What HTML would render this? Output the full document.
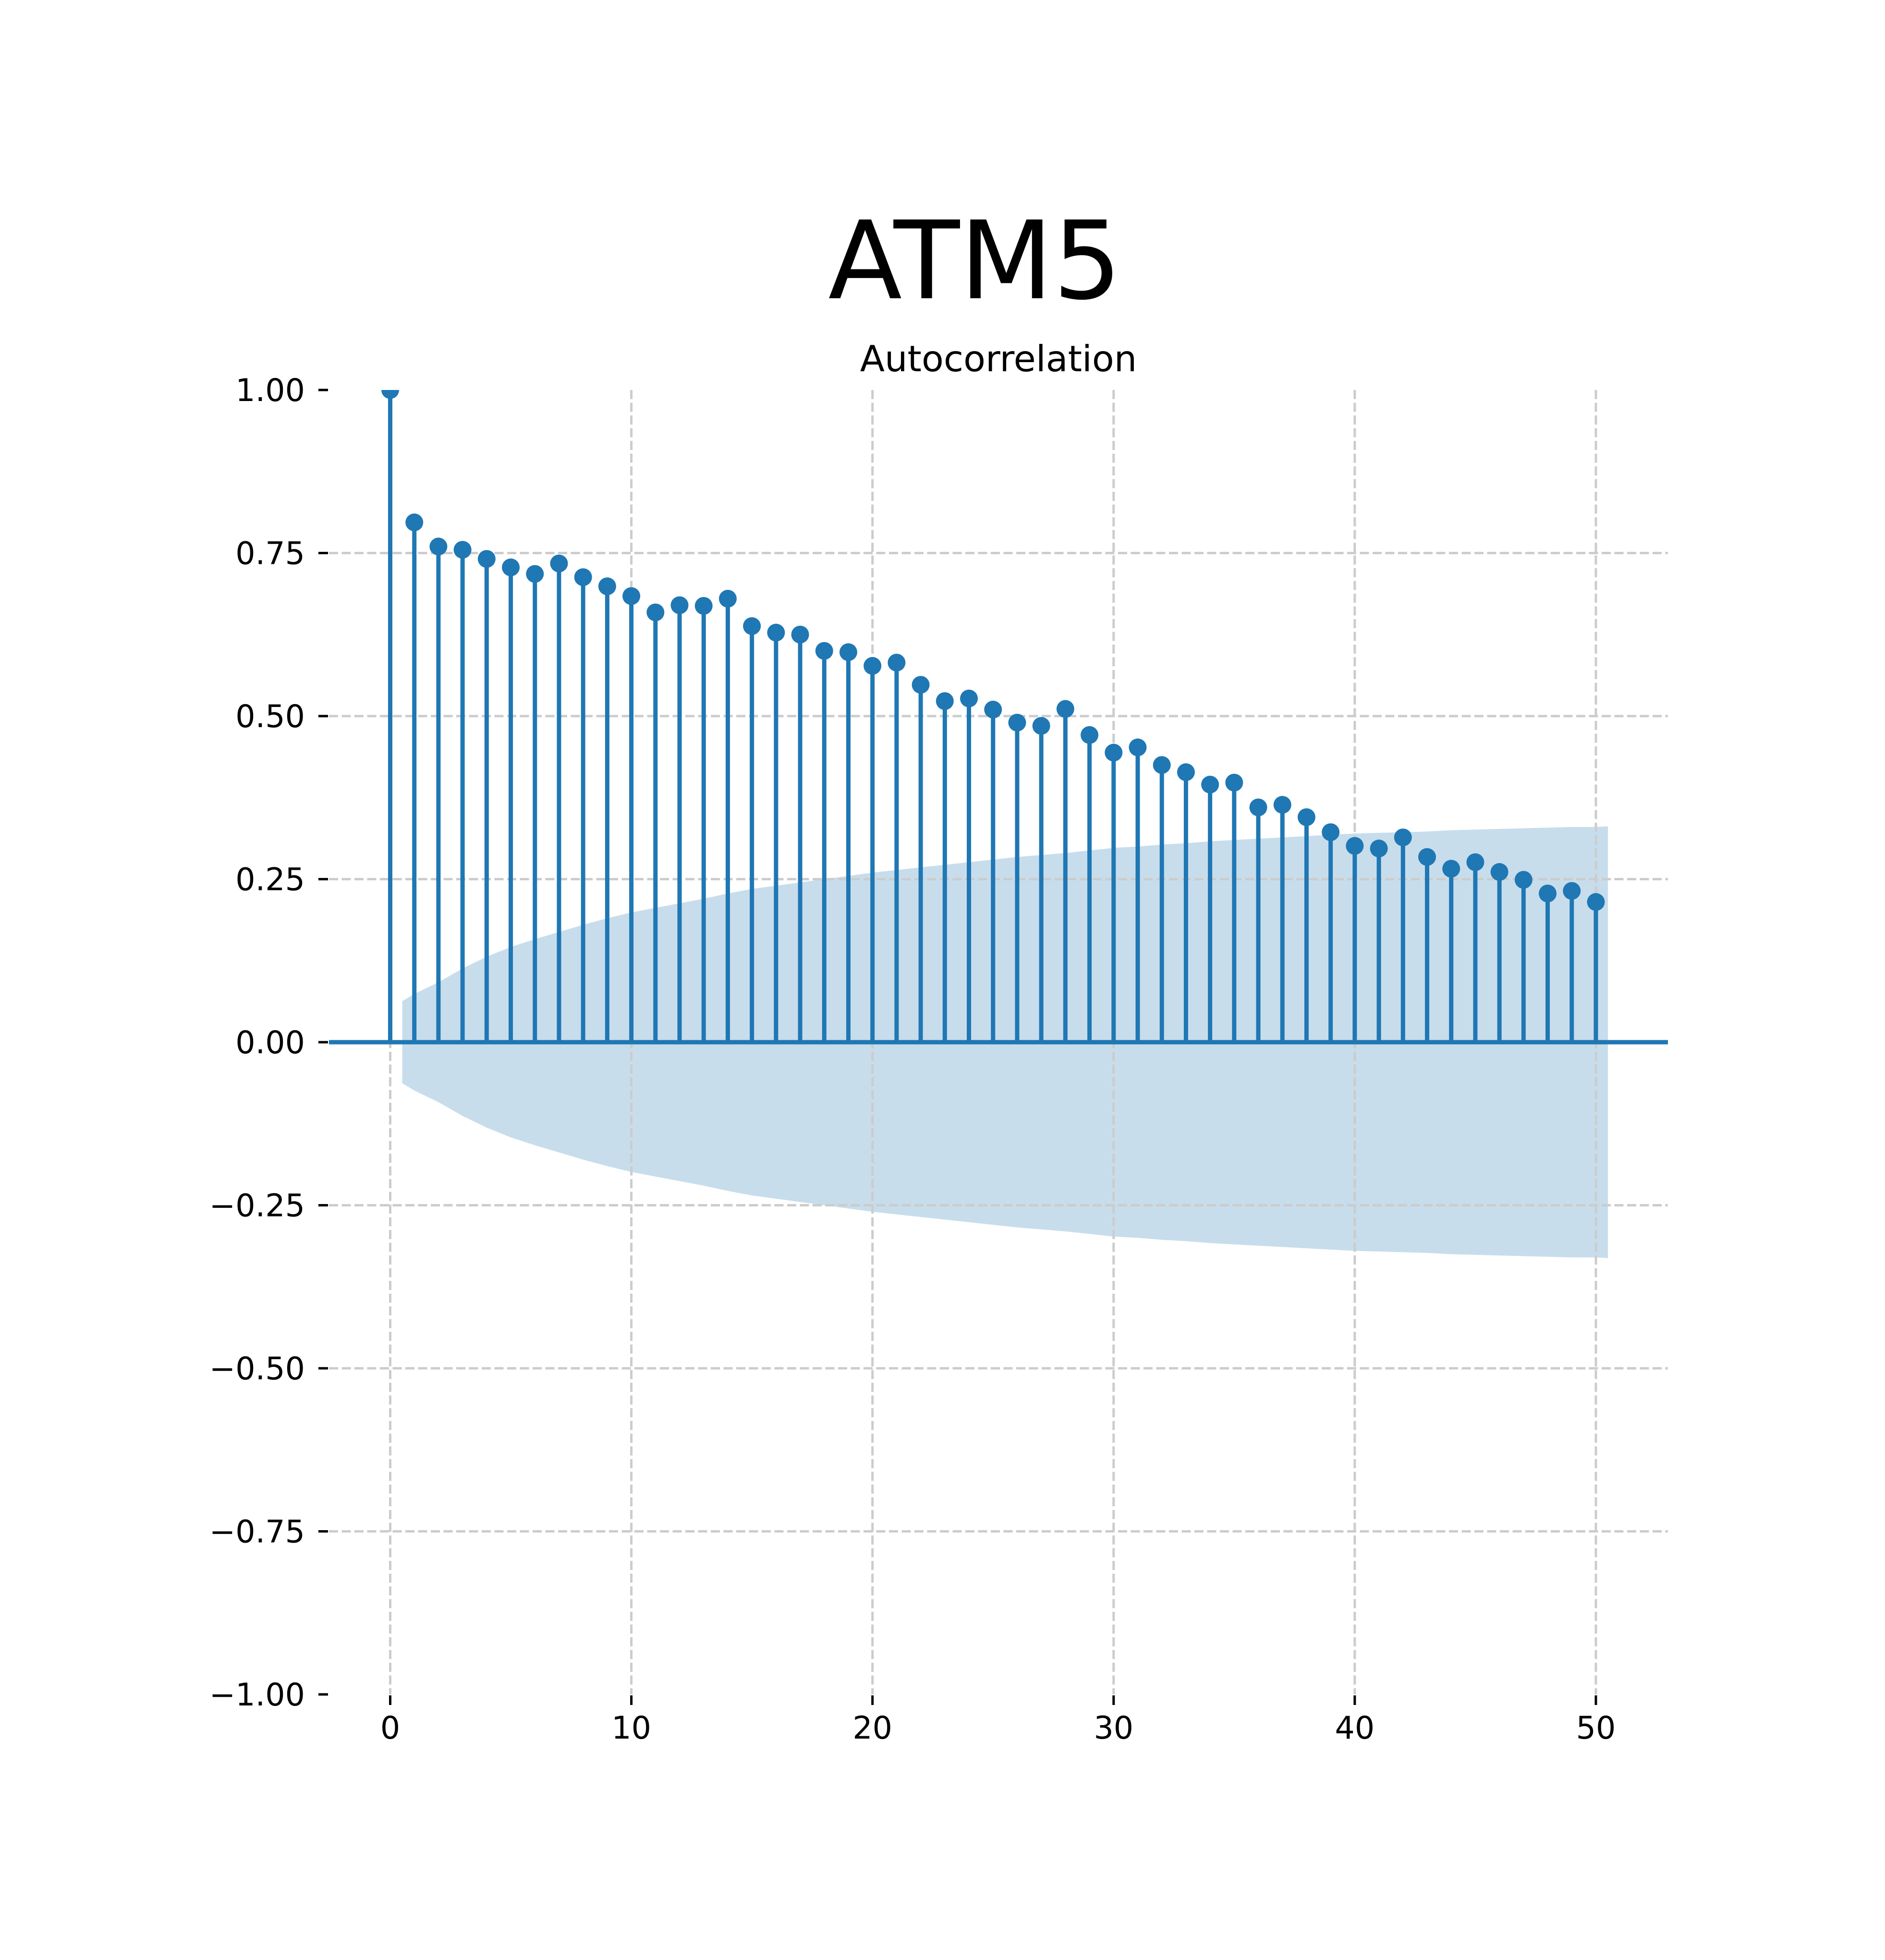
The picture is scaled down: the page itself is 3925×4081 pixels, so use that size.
<!DOCTYPE html>
<html><head><meta charset="utf-8">
<style>
html,body{margin:0;padding:0;background:#fff;}
svg{display:block;}
text{font-family:"DejaVu Sans","Liberation Sans",sans-serif;fill:#000;}
</style></head>
<body>
<svg id="chart" width="3925" height="4081" viewBox="0 0 3925 4081" xmlns="http://www.w3.org/2000/svg">
<rect width="3925" height="4081" fill="#fff"/>
<text x="2030" y="621" font-size="225" text-anchor="middle">ATM5</text>
<text x="2079" y="773" font-size="75" text-anchor="middle">Autocorrelation</text>
<defs><clipPath id="clip"><rect x="685" y="812" width="2788" height="2716"/></clipPath></defs>
<g id="band"></g>
<g id="grid"></g>
<g id="ticks"></g>
<g id="stems" clip-path="url(#clip)"></g>
</svg>
<script>
const lags = [0,1,2,3,4,5,6,7,8,9,10,11,12,13,14,15,16,17,18,19,20,21,22,23,24,25,26,27,28,29,30,31,32,33,34,35,36,37,38,39,40,41,42,43,44,45,46,47,48,49,50];
const acfValues = [1.0,0.797,0.760,0.755,0.741,0.728,0.718,0.734,0.713,0.699,0.684,0.659,0.670,0.669,0.680,0.638,0.628,0.625,0.600,0.598,0.577,0.582,0.548,0.523,0.527,0.510,0.490,0.485,0.511,0.471,0.444,0.452,0.425,0.414,0.395,0.398,0.360,0.364,0.345,0.322,0.301,0.297,0.314,0.284,0.266,0.276,0.261,0.249,0.228,0.232,0.215];
const bandLags = [0.5,1,2,3,4,5,6,7,8,9,10,11,12,13,14,15,16,17,18,19,20,21,22,23,24,25,26,27,28,29,30,31,32,33,34,35,36,37,38,39,40,41,42,43,44,45,46,47,48,49,50,50.5];
const bandValues = [0.063,0.074,0.092,0.113,0.131,0.146,0.158,0.169,0.180,0.190,0.199,0.206,0.213,0.220,0.228,0.235,0.240,0.245,0.250,0.255,0.260,0.264,0.268,0.272,0.276,0.280,0.284,0.287,0.290,0.294,0.298,0.300,0.303,0.305,0.308,0.310,0.312,0.314,0.316,0.318,0.320,0.321,0.322,0.323,0.325,0.326,0.327,0.328,0.329,0.330,0.330,0.331];
const xTicks = [0,10,20,30,40,50];
const xTickLabels = ["0","10","20","30","40","50"];
const yTicks = [1,0.75,0.5,0.25,0,-0.25,-0.5,-0.75,-1];
const yTickLabels = ["1.00","0.75","0.50","0.25","0.00","\u22120.25","\u22120.50","\u22120.75","\u22121.00"];

const NS = "http://www.w3.org/2000/svg";
const X0 = 812.5, XS = (3323 - 812.5) / 50;
const Y1 = 812, Ym1 = 3528;
const AX_L = 685, AX_R = 3473;
function xs(v){ return X0 + v * XS; }
function ys(v){ return Y1 + (1 - v) / 2 * (Ym1 - Y1); }
function mk(tag, attrs, parent){
  const e = document.createElementNS(NS, tag);
  for (const k in attrs) e.setAttribute(k, attrs[k]);
  parent.appendChild(e);
  return e;
}
const band = document.getElementById('band');
let pts = bandLags.map((l,i)=>xs(l)+','+ys(bandValues[i]));
for (let i = bandLags.length-1; i >= 0; i--) pts.push(xs(bandLags[i])+','+ys(-bandValues[i]));
const poly = mk('polygon', {points: pts.join(' '), fill:'#1f77b4', 'fill-opacity':'0.25'}, band);



const grid = document.getElementById('grid');
xTicks.forEach(t=>{
  const l = mk('line', {x1:xs(t), x2:xs(t), y1:Y1, y2:Ym1, stroke:'#cccccc', 'stroke-width':5, 'stroke-dasharray':'19 7.5'}, grid);
  
  
});
yTicks.forEach(t=>{
  if (Math.abs(t) === 1) return;
  const l = mk('line', {x1:AX_L, x2:AX_R, y1:ys(t), y2:ys(t), stroke:'#cccccc', 'stroke-width':5, 'stroke-dasharray':'19 7.5'}, grid);
  
  
});

const ticks = document.getElementById('ticks');
xTicks.forEach((t,i)=>{
  const l = mk('line', {x1:xs(t), x2:xs(t), y1:3530, y2:3550, stroke:'#000', 'stroke-width':5}, ticks);
  
  
  const tx = mk('text', {x:xs(t), y:3620, 'font-size':65, 'text-anchor':'middle'}, ticks);
  tx.textContent = xTickLabels[i];
  
  
});
yTicks.forEach((t,i)=>{
  const l = mk('line', {x1:663, x2:683, y1:ys(t), y2:ys(t), stroke:'#000', 'stroke-width':5}, ticks);
  
  
  const tx = mk('text', {x:635, y:ys(t)+23, 'font-size':65, 'text-anchor':'end'}, ticks);
  tx.textContent = yTickLabels[i];
  
  
});

const stems = document.getElementById('stems');
const zl = mk('line', {x1:AX_L, x2:AX_R, y1:ys(0), y2:ys(0), stroke:'#1f77b4', 'stroke-width':9}, stems);


lags.forEach((l,i)=>{
  const s = mk('line', {x1:xs(l), x2:xs(l), y1:ys(0), y2:ys(acfValues[i]), stroke:'#1f77b4', 'stroke-width':9}, stems);
  
  
  const c = mk('circle', {cx:xs(l), cy:ys(acfValues[i]), r:18.5, fill:'#1f77b4'}, stems);
  
  
});
</script>
</body></html>
